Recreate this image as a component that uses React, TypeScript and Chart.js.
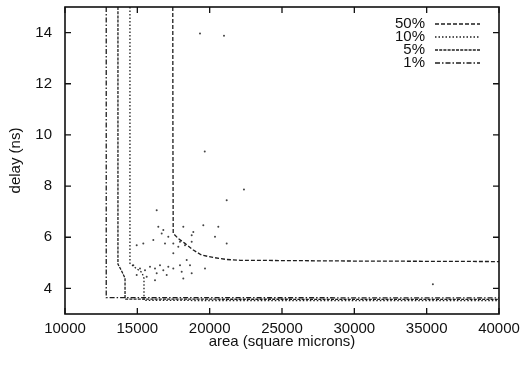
import React, { useEffect, useRef } from "react";
import { Chart, registerables } from "chart.js";

Chart.register(...registerables);

const xTicks = [10000, 15000, 20000, 25000, 30000, 35000, 40000];
const yTicks = [4, 6, 8, 10, 12, 14];
const seriesLabels = ["50%", "10%", "5%", "1%"];

const p50Area = [17450, 17460, 17480, 17830, 18290, 18870, 19450, 20250, 21180, 22100, 30000, 40000];
const p50Delay = [15, 10, 6.15, 5.95, 5.76, 5.5, 5.3, 5.21, 5.13, 5.1, 5.07, 5.05];

const p10Area = [14490, 14490, 14840, 15320, 15460, 15460, 40000];
const p10Delay = [15, 4.98, 4.82, 4.62, 4.39, 3.53, 3.52];

const p5Area = [13660, 13660, 13900, 14150, 14150, 40000];
const p5Delay = [15, 4.95, 4.7, 4.4, 3.58, 3.57];

const p1Area = [12850, 12850, 40000];
const p1Delay = [15, 3.64, 3.63];

const sampleArea = [
  16449, 16795, 16684, 17140, 18177, 18758, 18868, 20596, 20368, 21177, 15412, 16103,
  16912, 17486, 17949, 18294, 18758, 19560, 16338, 21177, 14956, 17486, 18412, 17831,
  14721, 15184, 15530, 15875, 16221, 16566, 16795, 17140, 17486, 17949, 14956, 15647,
  16338, 17029, 18066, 18640, 18758, 19677, 16221, 18177, 19660, 22370, 35430, 19331, 20990,
];
const sampleDelay = [
  6.41, 6.28, 6.15, 6.02, 6.41, 6.08, 6.21, 6.41, 6.02, 5.76, 5.76, 5.89,
  5.76, 5.76, 5.82, 5.69, 5.82, 6.47, 7.06, 7.45, 5.69, 5.37, 5.11, 5.63,
  4.91, 4.78, 4.71, 4.85, 4.78, 4.91, 4.71, 4.85, 4.78, 4.91, 4.52, 4.46,
  4.59, 4.52, 4.65, 4.91, 4.59, 4.78, 4.32, 4.39, 9.35, 7.87, 4.16, 13.96, 13.88,
];

const FONT = "'Liberation Sans', Arial, Helvetica, sans-serif";
const INK = "#111";
const LINE = "#1e1e1e";
const dashes: number[][] = [
  [4, 2],
  [1.5, 2],
  [3, 1.2],
  [5, 2, 1.5, 2],
];

const toPts = (xs: number[], ys: number[]) => xs.map((x, i) => ({ x, y: ys[i] }));

const framePlugin = {
  id: "frame",
  afterDatasetsDraw(chart: any) {
    const { ctx, chartArea } = chart;
    const { left, right, top, bottom } = chartArea;
    const xs = chart.scales.x;
    const ys = chart.scales.y;
    ctx.save();
    ctx.strokeStyle = INK;
    ctx.lineWidth = 1.6;
    ctx.setLineDash([]);
    ctx.strokeRect(left, top, right - left, bottom - top);
    ctx.lineWidth = 1.3;
    const tl = 6;
    ctx.beginPath();
    xTicks.forEach((v) => {
      const px = xs.getPixelForValue(v);
      ctx.moveTo(px, bottom);
      ctx.lineTo(px, bottom - tl);
      ctx.moveTo(px, top);
      ctx.lineTo(px, top + tl);
    });
    yTicks.forEach((v) => {
      const py = ys.getPixelForValue(v);
      ctx.moveTo(left, py);
      ctx.lineTo(left + tl, py);
      ctx.moveTo(right, py);
      ctx.lineTo(right - tl, py);
    });
    ctx.stroke();

    // legend
    ctx.font = `15px ${FONT}`;
    ctx.fillStyle = INK;
    ctx.textAlign = "right";
    ctx.textBaseline = "middle";
    seriesLabels.forEach((lab, i) => {
      const y = top + 17 + i * 13;
      ctx.fillText(lab, right - 74, y);
      ctx.beginPath();
      ctx.strokeStyle = LINE;
      ctx.lineWidth = 1.3;
      ctx.setLineDash(dashes[i]);
      ctx.moveTo(right - 64, y);
      ctx.lineTo(right - 19, y);
      ctx.stroke();
    });
    ctx.restore();
  },
};

export default function App() {
  const ref = useRef<HTMLCanvasElement | null>(null);
  useEffect(() => {
    document.body.style.margin = "0";
    const canvas = ref.current;
    if (!canvas) return;
    const curves = [
      toPts(p50Area, p50Delay),
      toPts(p10Area, p10Delay),
      toPts(p5Area, p5Delay),
      toPts(p1Area, p1Delay),
    ];
    const chart = new Chart(canvas, {
      type: "scatter",
      data: {
        datasets: [
          ...curves.map((pts, i) => ({
            label: seriesLabels[i],
            data: pts,
            showLine: true,
            borderColor: LINE,
            borderWidth: 1.3,
            borderDash: dashes[i],
            pointRadius: 0,
            tension: 0,
            fill: false,
          })),
          {
            label: "samples",
            data: toPts(sampleArea, sampleDelay),
            showLine: false,
            pointRadius: 1,
            pointBackgroundColor: "#444",
            pointBorderWidth: 0,
            backgroundColor: "#444",
          },
        ],
      },
      options: {
        animation: false,
        responsive: false,
        maintainAspectRatio: false,
        layout: { padding: { top: 7, right: 28, bottom: 0, left: 0 } },
        plugins: { legend: { display: false }, tooltip: { enabled: false } },
        scales: {
          x: {
            type: "linear",
            min: 10000,
            max: 40000,
            afterBuildTicks: (s: any) => {
              s.ticks = xTicks.map((v) => ({ value: v }));
            },
            afterFit: (s: any) => {
              s.height = 58;
              s.paddingLeft = 0;
              s.paddingRight = 0;
            },
            grid: { display: false, drawTicks: false },
            border: { display: false },
            ticks: {
              padding: 6,
              color: INK,
              font: { family: FONT, size: 15 },
              maxRotation: 0,
              callback: (v: any) => String(v),
            },
            title: {
              display: true,
              text: "area (square microns)",
              color: INK,
              font: { family: FONT, size: 15 },
              padding: { top: 0, bottom: 21 },
            },
          },
          y: {
            type: "linear",
            min: 3,
            max: 15,
            afterBuildTicks: (s: any) => {
              s.ticks = yTicks.map((v) => ({ value: v }));
            },
            afterFit: (s: any) => {
              s.width = 65;
              s.paddingTop = 0;
              s.paddingBottom = 0;
            },
            grid: { display: false, drawTicks: false },
            border: { display: false },
            ticks: {
              padding: 13,
              color: INK,
              font: { family: FONT, size: 15 },
              callback: (v: any) => String(v),
            },
            title: {
              display: true,
              text: "delay (ns)",
              color: INK,
              font: { family: FONT, size: 15 },
              padding: { top: 7, bottom: 0 },
            },
          },
        },
      },
      plugins: [framePlugin],
    } as any);
    return () => chart.destroy();
  }, []);
  return (
    <div style={{ width: 527, height: 372 }}>
      <canvas ref={ref} width={527} height={372} style={{ display: "block", width: 527, height: 372 }} />
    </div>
  );
}
